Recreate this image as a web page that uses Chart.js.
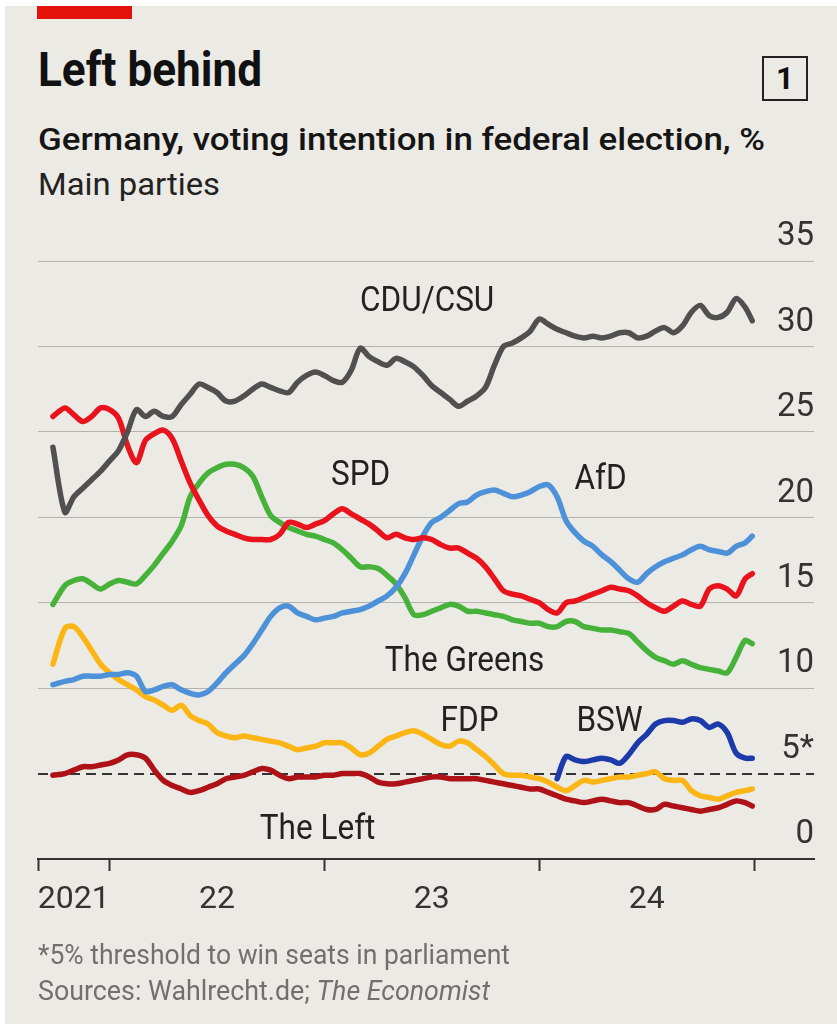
<!DOCTYPE html>
<html>
<head>
<meta charset="utf-8">
<script src="https://cdn.jsdelivr.net/npm/chart.js@4.4.1/dist/chart.umd.min.js"></script>
<style>
  body { margin: 0; width: 837px; height: 1024px; background: #fff; position: relative; overflow: hidden; font-family: Roboto, sans-serif; }
  #panel { position: absolute; left: 5px; top: 6px; right: 0; bottom: 0; background: #ECEAE4; }
  #redbar { position: absolute; left: 37px; top: 6px; width: 95px; height: 13px; background: #E3120B; }
  .fit { position: absolute; white-space: nowrap; line-height: 1; transform-origin: 0 0; }
  #title { left: 38px; top: 46px; font-size: 48px; font-weight: 700; color: #111; }
  #badge { position: absolute; left: 762px; top: 56px; width: 42px; height: 41px; border: 2.5px solid #222; font: 700 31px Roboto, sans-serif; color: #111; display: flex; align-items: center; justify-content: center; }
  #subtitle { left: 38px; top: 124px; font-size: 31px; font-weight: 500; color: #151515; }
  #sub2 { left: 38px; top: 169px; font-size: 31px; color: #222; }
  #note { left: 38px; top: 942px; font-size: 27px; color: #707070; }
  #source { left: 38px; top: 978px; font-size: 27px; color: #707070; }
  canvas { position: absolute; left: 0; top: 0; }
</style>
</head>
<body>
<div id="panel"></div>
<div id="redbar"></div>
<div id="title" class="fit" data-w="224">Left behind</div>
<div id="badge">1</div>
<div id="subtitle" class="fit" data-w="727">Germany, voting intention in federal election, %</div>
<div id="sub2" class="fit" data-w="182">Main parties</div>
<canvas id="chart" width="837" height="1024"></canvas>
<div id="note" class="fit" data-w="472">*5% threshold to win seats in parliament</div>
<div id="source" class="fit" data-w="452">Sources: Wahlrecht.de; <i>The Economist</i></div>

<script>
// poll-of-polls trend, roughly twice a month
const dates = [
  '2021-09-26', '2021-10-16', '2021-11-01', '2021-11-16', '2021-12-01', '2021-12-16',
  '2022-01-01', '2022-01-16', '2022-02-01', '2022-02-16', '2022-03-01', '2022-03-16',
  '2022-04-01', '2022-04-16', '2022-05-01', '2022-05-16', '2022-06-01', '2022-06-16',
  '2022-07-01', '2022-07-16', '2022-08-01', '2022-08-16', '2022-09-01', '2022-09-16',
  '2022-10-01', '2022-10-16', '2022-11-01', '2022-11-16', '2022-12-01', '2022-12-16',
  '2023-01-01', '2023-01-16', '2023-02-01', '2023-02-16', '2023-03-01', '2023-03-16',
  '2023-04-01', '2023-04-16', '2023-05-01', '2023-05-16', '2023-06-01', '2023-06-16',
  '2023-07-01', '2023-07-16', '2023-08-01', '2023-08-16', '2023-09-01', '2023-09-16',
  '2023-10-01', '2023-10-16', '2023-11-01', '2023-11-16', '2023-12-01', '2023-12-16',
  '2024-01-01', '2024-01-16', '2024-02-01', '2024-02-16', '2024-03-01', '2024-03-16',
  '2024-04-01', '2024-04-16', '2024-05-01', '2024-05-16', '2024-06-01', '2024-06-16',
  '2024-07-01', '2024-07-16', '2024-08-01', '2024-08-16', '2024-09-01', '2024-09-16',
  '2024-10-01', '2024-10-16', '2024-11-01', '2024-11-16', '2024-12-01', '2024-12-16',
  '2024-12-28'
];

const cdu = [
  24.1, 20.3, 21.2, 21.7, 22.2, 22.7,
  23.3, 23.9, 25.0, 26.3, 25.9, 26.2, 25.9, 25.9, 26.6, 27.2, 27.8, 27.6, 27.3, 26.8, 26.8, 27.1, 27.5, 27.8, 27.6, 27.4, 27.3, 27.9, 28.3, 28.5,
  28.3, 28.0, 27.9, 28.6, 29.9, 29.4, 29.1, 28.9, 29.3, 29.1, 28.8, 28.3, 27.7, 27.3, 26.9, 26.5, 26.8, 27.1, 27.6, 28.9, 30.0, 30.2, 30.5, 30.9,
  31.6, 31.3, 31.0, 30.8, 30.6, 30.5, 30.6, 30.5, 30.6, 30.8, 30.8, 30.5, 30.6, 30.9, 31.1, 30.8, 31.2, 32.0, 32.4, 31.8, 31.7, 32.0, 32.8, 32.3,
  31.5
];
const spd = [
  25.9, 26.4, 26.0, 25.6, 25.9, 26.4,
  26.3, 25.8, 24.2, 23.2, 24.5, 24.9, 25.1, 24.6, 23.3, 22.0, 21.0, 20.1, 19.5, 19.2, 19.0, 18.8, 18.7, 18.7, 18.7, 19.0, 19.7, 19.6, 19.4, 19.6,
  19.8, 20.2, 20.5, 20.2, 19.9, 19.6, 19.2, 18.8, 19.0, 18.8, 18.7, 18.8, 18.7, 18.4, 18.2, 18.2, 17.9, 17.6, 17.1, 16.4, 15.7, 15.5, 15.4, 15.2,
  15.0, 14.6, 14.4, 15.0, 15.1, 15.3, 15.5, 15.7, 15.9, 15.8, 15.7, 15.4, 15.0, 14.7, 14.5, 14.8, 15.1, 14.9, 14.8, 15.8, 16.0, 15.8, 15.4, 16.4,
  16.7
];
const afd = [
  10.2, 10.4, 10.5, 10.7, 10.7, 10.7,
  10.8, 10.8, 10.9, 10.7, 9.8, 9.9, 10.1, 10.2, 9.9, 9.7, 9.6, 9.8, 10.3, 10.9, 11.4, 11.9, 12.6, 13.4, 14.2, 14.7, 14.8, 14.4, 14.2, 14.0,
  14.1, 14.2, 14.4, 14.5, 14.6, 14.8, 15.1, 15.4, 15.9, 16.7, 17.8, 18.9, 19.7, 20.0, 20.4, 20.8, 20.9, 21.3, 21.5, 21.6, 21.4, 21.2, 21.3, 21.5,
  21.8, 21.9, 21.2, 19.8, 19.1, 18.6, 18.3, 17.8, 17.4, 16.9, 16.4, 16.2, 16.7, 17.1, 17.4, 17.6, 17.8, 18.1, 18.3, 18.1, 18.0, 17.9, 18.3, 18.5,
  18.9
];
const greens = [
  14.9, 16.0, 16.3, 16.4, 16.1, 15.8,
  16.1, 16.3, 16.2, 16.1, 16.6, 17.2, 17.9, 18.6, 19.5, 21.2, 22.0, 22.6, 22.9, 23.1, 23.1, 22.9, 22.4, 21.2, 20.1, 19.7, 19.4, 19.2, 19.0, 18.9,
  18.7, 18.5, 18.1, 17.6, 17.1, 17.1, 17.0, 16.6, 16.1, 15.3, 14.3, 14.3, 14.5, 14.7, 14.9, 14.8, 14.5, 14.5, 14.4, 14.3, 14.2, 14.0, 13.9, 13.8,
  13.8, 13.6, 13.6, 13.9, 13.9, 13.6, 13.5, 13.4, 13.4, 13.3, 13.2, 12.7, 12.2, 11.8, 11.6, 11.4, 11.6, 11.4, 11.2, 11.1, 11.0, 10.9, 11.8, 12.8,
  12.6
];
const fdp = [
  11.4, 13.5, 13.6, 13.0, 12.2, 11.4,
  10.9, 10.5, 10.2, 9.9, 9.5, 9.3, 9.0, 8.7, 9.0, 8.4, 8.1, 7.9, 7.4, 7.2, 7.1, 7.2, 7.1, 7.0, 6.9, 6.8, 6.6, 6.4, 6.5, 6.6,
  6.8, 6.8, 6.8, 6.5, 6.1, 6.2, 6.6, 7.0, 7.2, 7.4, 7.5, 7.3, 7.0, 6.7, 6.6, 6.9, 6.8, 6.4, 6.0, 5.5, 5.0, 4.9, 4.9, 4.8,
  4.7, 4.5, 4.2, 4.0, 4.3, 4.6, 4.5, 4.6, 4.7, 4.8, 4.8, 4.9, 5.0, 5.1, 4.7, 4.6, 4.6, 4.0, 3.7, 3.6, 3.5, 3.7, 3.9, 4.0,
  4.1
];
const left = [
  4.9, 5.0, 5.2, 5.4, 5.4, 5.5,
  5.6, 5.8, 6.1, 6.1, 5.9, 5.2, 4.6, 4.3, 4.1, 3.9, 4.0, 4.2, 4.4, 4.7, 4.8, 4.9, 5.1, 5.3, 5.2, 4.9, 4.7, 4.8, 4.8, 4.8,
  4.9, 4.9, 5.0, 5.0, 5.0, 4.8, 4.5, 4.4, 4.4, 4.5, 4.6, 4.7, 4.8, 4.8, 4.7, 4.7, 4.7, 4.7, 4.6, 4.5, 4.4, 4.3, 4.2, 4.1,
  4.1, 3.9, 3.7, 3.5, 3.4, 3.3, 3.4, 3.5, 3.4, 3.3, 3.3, 3.1, 2.9, 2.9, 3.2, 3.1, 3.0, 2.9, 2.8, 2.9, 3.0, 3.2, 3.4, 3.3,
  3.1
];
// BSW only exists from January 2024
const bsw = [
  ...Array(56).fill(null),
  4.7, 6.0, 5.8, 5.7, 5.8, 5.9, 5.8, 5.6, 6.1, 6.8, 7.3, 7.9, 8.1, 8.1, 8.0, 8.2, 8.1, 7.7, 7.9, 7.4, 6.2, 5.9,
  5.9
];

const yearBounds = ['2021-09-01', '2022-01-01', '2023-01-01', '2024-01-01', '2025-01-01'];
const yearLabels = ['2021', '22', '23', '24'];
const yTicks = [0, 5, 10, 15, 20, 25, 30, 35];
const threshold = 5;

const labelNames = ['CDU/CSU', 'SPD', 'AfD', 'The Greens', 'FDP', 'BSW', 'The Left'];
// label anchors in chart units: [month index, % at text baseline]
const labelAt = [[29.74, 32.05], [26.02, 21.87], [39.43, 21.64], [31.83, 10.99], [32.11, 7.49], [39.93, 7.49], [23.62, 1.17]];

// months since Jan 2021
function toMonth(s) {
  const [y, m, d] = s.split('-').map(Number);
  return (y - 2021) * 12 + (m - 1) + (d - 1) / 30;
}

const xs = dates.map(toMonth);
const bounds = yearBounds.map(toMonth);
const mids = yearLabels.map((_, i) => (bounds[i] + bounds[i + 1]) / 2);
const xTickVals = bounds.concat(mids).sort((a, b) => a - b);

function series(label, values, color) {
  return {
    label,
    data: values.map((v, i) => ({ x: xs[i], y: v })),
    borderColor: color,
    borderWidth: 5.5,
    pointRadius: 0,
    tension: 0.3,
    borderCapStyle: 'round',
    borderJoinStyle: 'round',
    spanGaps: false,
  };
}

const seriesLabels = {
  id: 'seriesLabels',
  afterDatasetsDraw(chart) {
    const { ctx, scales: { x, y } } = chart;
    ctx.save();
    ctx.font = '35px Roboto';
    ctx.fillStyle = '#222';
    ctx.textAlign = 'center';
    ctx.textBaseline = 'alphabetic';
    labelNames.forEach((name, i) => {
      ctx.save();
      ctx.translate(x.getPixelForValue(labelAt[i][0]), y.getPixelForValue(labelAt[i][1]));
      ctx.scale(0.9, 1);
      ctx.fillText(name, 0, 0);
      ctx.restore();
    });
    ctx.restore();
  },
};

new Chart(document.getElementById('chart'), {
  type: 'line',
  data: {
    datasets: [
      series('CDU/CSU', cdu, '#505050'),
      series('SPD', spd, '#E8131C'),
      series('AfD', afd, '#4D91D8'),
      series('BSW', bsw, '#1D3AAB'),
      series('The Greens', greens, '#46B23A'),
      series('FDP', fdp, '#FBB514'),
      series('The Left', left, '#AE1217'),
    ],
  },
  options: {
    responsive: false,
    animation: false,
    layout: { autoPadding: false, padding: { left: 38, right: 23, top: 261, bottom: 105 } },
    plugins: { legend: { display: false }, tooltip: { enabled: false } },
    scales: {
      x: {
        type: 'linear',
        min: bounds[0],
        max: 51.35,
        afterBuildTicks: (scale) => { scale.ticks = xTickVals.map((v) => ({ value: v })); },
        afterFit: (scale) => { scale.height = 60; },
        grid: {
          drawOnChartArea: false,
          tickLength: 12,
          tickWidth: 2,
          tickColor: (c) => (c.tick && bounds.includes(c.tick.value) ? '#333' : 'transparent'),
        },
        border: { color: '#333', width: 2 },
        ticks: {
          autoSkip: false,
          maxRotation: 0,
          padding: 10,
          color: '#333',
          font: { family: 'Roboto', size: 32 },
          callback: (v) => {
            const i = mids.indexOf(v);
            return i >= 0 ? yearLabels[i] : '';
          },
        },
      },
      y: {
        position: 'right',
        min: 0,
        max: 35,
        afterBuildTicks: (scale) => { scale.ticks = yTicks.map((v) => ({ value: v })); },
        afterFit: (scale) => { scale.width = 0; },
        grid: {
          drawTicks: false,
          color: (c) => {
            if (!c.tick) return '#B4B2AC';
            if (c.tick.value === 0) return 'transparent';
            return c.tick.value === threshold ? '#333' : '#B4B2AC';
          },
          lineWidth: (c) => (c.tick && c.tick.value === threshold ? 2 : 1),
        },
        border: {
          display: false,
          dash: (c) => (c.tick && c.tick.value === threshold ? [10, 6] : []),
        },
        ticks: {
          mirror: true,
          padding: 0,
          labelOffset: -24,
          color: '#333',
          font: { family: 'Roboto', size: 33 },
          callback: (v) => (v === threshold ? v + '*' : String(v)),
        },
      },
    },
  },
  plugins: [seriesLabels],
});

document.querySelectorAll('.fit').forEach((el) => {
  const w = el.getBoundingClientRect().width;
  el.style.transform = 'scaleX(' + (el.dataset.w / w) + ')';
});
</script>
</body>
</html>
